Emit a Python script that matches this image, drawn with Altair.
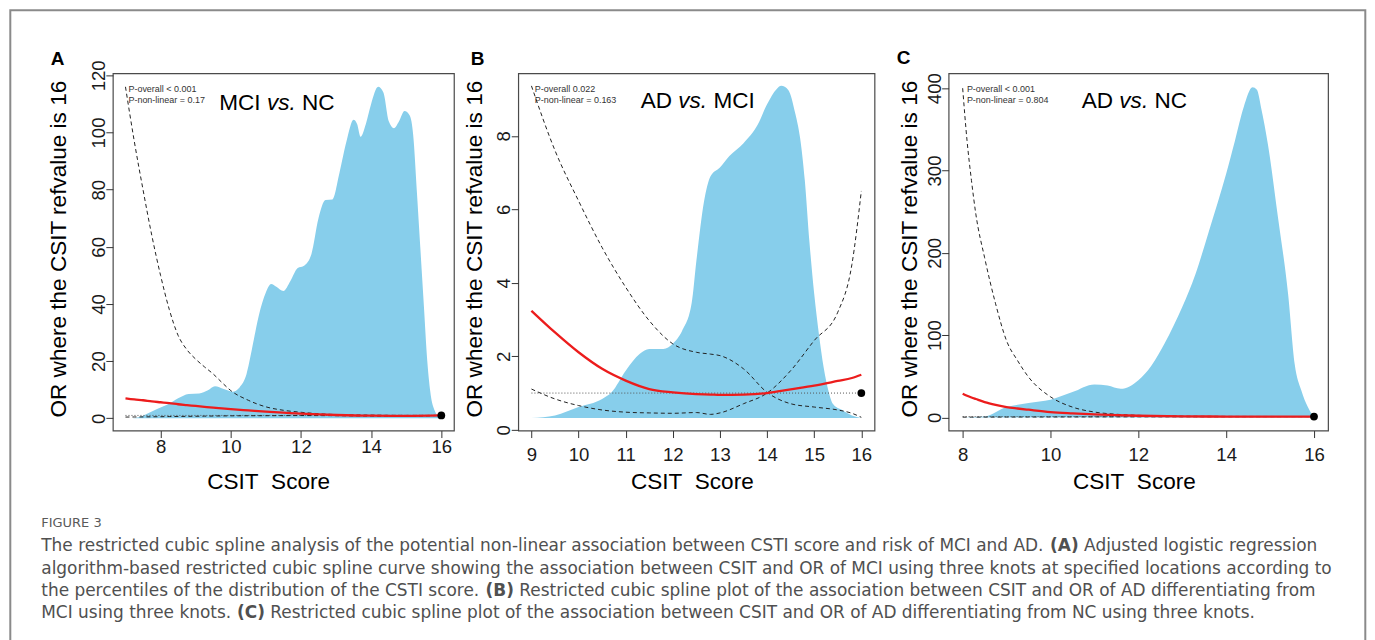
import os
import struct
import altair as alt
import pandas as pd

# ------------------------------------------------------------------ data
# Panel A : MCI vs. NC
A_dens_x = [7.2, 7.4, 7.6, 7.9, 8.2, 8.5, 8.8, 9.1, 9.35, 9.55, 9.8, 10.05, 10.25, 10.45, 10.6, 10.8, 11.0,
            11.15, 11.3, 11.5, 11.7, 11.9, 12.1, 12.3, 12.5, 12.7, 12.9, 13.1, 13.3, 13.5, 13.6, 13.7, 13.85,
            14.0, 14.2, 14.35, 14.5, 14.65, 14.8, 14.95, 15.1, 15.2, 15.3, 15.4, 15.5, 15.6, 15.7, 15.8, 15.9, 16.0]
A_dens_y = [0, 0.4, 1.5, 3.2, 4.8, 7.0, 8.5, 8.7, 9.8, 11.2, 10.2, 9.3, 10.8, 15.5, 24, 36, 44,
            47, 46, 44.5, 48, 52.5, 53.5, 57.5, 70, 76.4, 76.6, 86, 97, 104.5, 103, 98.5, 103,
            110, 116, 114, 104, 101.5, 104, 107.5, 106, 99, 80, 60, 40, 20, 8, 3, 1, 0.3]
A_line_x = [7, 7.25, 7.5, 7.75, 8, 8.25, 8.5, 8.75, 9, 9.25, 9.5, 9.75, 10, 10.5, 11, 11.5, 12, 12.5, 13, 14, 15, 16]
A_or = [7.0, 6.6, 6.3, 5.9, 5.6, 5.3, 4.9, 4.6, 4.3, 4.0, 3.7, 3.45, 3.2, 2.75, 2.3, 1.95, 1.6, 1.35, 1.15, 0.9, 0.85, 1.0]
A_ci_up = [116, 97, 80, 64, 50, 38, 29, 24, 20.7, 18, 15.5, 12.5, 9.7, 6.3, 4.0, 2.8, 2.1, 1.6, 1.3, 1.1, 1.0, 1.0]
A_ci_lo = [0.42, 0.45, 0.48, 0.52, 0.55, 0.6, 0.63, 0.67, 0.7, 0.74, 0.78, 0.82, 0.85, 0.88, 0.9, 0.92, 0.95, 0.93, 0.9, 0.75, 0.7, 1.0]

# Panel B : AD vs. MCI
B_dens_x = [9.0, 9.5, 10.0, 10.5, 10.7, 11.0, 11.3, 11.5, 11.8, 12.0, 12.2, 12.4, 12.5, 12.66, 12.8, 13.0, 13.2,
            13.5, 13.8, 14.0, 14.2, 14.3, 14.45, 14.6, 14.7, 14.8, 14.9, 15.0, 15.1, 15.2, 15.3, 15.4, 15.6, 15.8, 16.0]
B_dens_y = [0.32, 0.39, 0.62, 0.84, 1.02, 1.61, 2.07, 2.2, 2.2, 2.34, 2.7, 3.45, 4.6, 6.2, 6.9, 7.14, 7.45,
            7.8, 8.3, 8.86, 9.27, 9.36, 9.25, 8.6, 7.95, 6.8, 5.1, 3.7, 2.6, 1.7, 1.07, 0.7, 0.53, 0.39, 0.32]
B_dens_base = 0.32
B_line_x = [9, 9.5, 10, 10.5, 11, 11.5, 12, 12.5, 12.8, 13, 13.5, 14, 14.5, 15, 15.5, 15.8, 16]
B_or = [3.24, 2.65, 2.11, 1.66, 1.34, 1.11, 1.02, 0.97, 0.96, 0.95, 0.96, 1.0, 1.1, 1.2, 1.33, 1.41, 1.5]
B_ci_1 = [9.36, 7.6, 6.23, 4.96, 3.88, 2.97, 2.34, 2.11, 2.06, 2.02, 1.66, 1.02, 0.71, 0.62, 0.54, 0.45, 0.34]
B_ci_2 = [1.11, 0.84, 0.66, 0.54, 0.48, 0.46, 0.45, 0.47, 0.42, 0.46, 0.71, 1.0, 1.61, 2.43, 3.2, 4.5, 6.5]

# Panel C : AD vs. NC
C_dens_x = [8.0, 8.5, 9.0, 9.5, 10.0, 10.5, 11.0, 11.3, 11.6, 11.8, 12.0, 12.3, 12.6, 13.0, 13.3, 13.6, 14.0,
            14.2, 14.4, 14.6, 14.7, 14.8, 14.95, 15.18, 15.41, 15.56, 15.71, 15.86, 16.0]
C_dens_y = [0, 1, 12.5, 17.4, 21.4, 30.7, 40, 38.8, 34.8, 37.6, 45, 63, 90, 134, 174, 225, 296,
            336, 377, 401, 398, 375, 332, 243, 150, 65, 33, 12.5, 0]
C_line_x = [8, 8.1, 8.2, 8.3, 8.5, 8.75, 9, 9.25, 9.5, 10, 10.5, 11, 11.5, 12, 13, 14, 15, 16]
C_or = [28.7, 26.3, 24.2, 22.3, 18.6, 15.2, 12.5, 10.8, 9.3, 6.5, 4.9, 3.6, 2.7, 2.0, 1.3, 1.0, 0.95, 1.0]
C_ci_up = [400, 336, 288, 247, 194, 138, 93, 69, 49, 25, 12.5, 6.5, 3.8, 2.5, 1.5, 1.2, 1.1, 1.0]
C_ci_lo = [0.3, 0.31, 0.32, 0.33, 0.35, 0.38, 0.4, 0.43, 0.45, 0.5, 0.55, 0.6, 0.65, 0.7, 0.75, 0.8, 0.9, 1.0]

REF_X = 16
REF_OR = 1

Y_TITLE = "OR where the CSIT refvalue is 16"
X_TITLE = "CSIT\u00a0\u00a0Score"
A_P = ["P-overall < 0.001", "P-non-linear = 0.17"]
B_P = ["P-overall 0.022", "P-non-linear = 0.163"]
C_P = ["P-overall < 0.001", "P-non-linear = 0.804"]
A_LAB = ("MCI", "vs.", "NC")
B_LAB = ("AD", "vs.", "MCI")
C_LAB = ("AD", "vs.", "NC")

CAP_HEAD = "FIGURE 3"
CAP_LINES = [
    ["The restricted cubic spline analysis of the potential non-linear association between CSTI score and risk of MCI and AD. ",
     "(A)", " Adjusted logistic regression"],
    ["algorithm-based restricted cubic spline curve showing the association between CSIT and OR of MCI using three knots at specified locations according to"],
    ["the percentiles of the distribution of the CSTI score. ", "(B)",
     " Restricted cubic spline plot of the association between CSIT and OR of AD differentiating from"],
    ["MCI using three knots. ", "(C)",
     " Restricted cubic spline plot of the association between CSIT and OR of AD differentiating from NC using three knots."],
]

# ------------------------------------------------------------------ font metrics (for placing mixed-style text)
ARIAL = {' ': 278, '.': 278, ',': 278, '-': 333, '(': 333, ')': 333, '<': 584, '=': 584}
for c in '0123456789':
    ARIAL[c] = 556
for c, w in zip('abcdefghijklmnopqrstuvwxyz',
                [556, 556, 500, 556, 556, 278, 556, 556, 222, 222, 500, 222, 833, 556, 556, 556, 556, 333, 500, 278,
                 556, 500, 722, 500, 500, 500]):
    ARIAL[c] = w
for c, w in zip('ABCDEFGHIJKLMNOPQRSTUVWXYZ',
                [667, 667, 722, 722, 667, 611, 778, 722, 278, 500, 667, 556, 833, 722, 778, 667, 778, 722, 667, 611,
                 722, 667, 944, 667, 667, 611]):
    ARIAL[c] = w
ARIAL_W = {k: v / 1000 for k, v in ARIAL.items()}


def arial_width(s, size):
    return sum(ARIAL_W.get(ch, 0.556) for ch in s) * size


def find_font(names):
    roots = ['/usr/share/fonts', '/usr/local/share/fonts', os.path.expanduser('~/.fonts'),
             os.path.expanduser('~/.local/share/fonts')]
    for r in roots:
        if not os.path.isdir(r):
            continue
        for dp, dn, fn in os.walk(r):
            for f in fn:
                if f.lower() in names:
                    return os.path.join(dp, f)
    return None


def load_widths(path):
    try:
        with open(path, 'rb') as fh:
            data = fh.read()
        nt = struct.unpack('>H', data[4:6])[0]
        tabs = {}
        for i in range(nt):
            tag, cs, off, ln = struct.unpack('>4sIII', data[12 + 16 * i:28 + 16 * i])
            tabs[tag.decode('latin1')] = off
        upem = struct.unpack('>H', data[tabs['head'] + 18:tabs['head'] + 20])[0]
        nhm = struct.unpack('>H', data[tabs['hhea'] + 34:tabs['hhea'] + 36])[0]
        ho = tabs['hmtx']
        adv = [struct.unpack('>H', data[ho + 4 * i:ho + 4 * i + 2])[0] for i in range(nhm)]
        co = tabs['cmap']
        n = struct.unpack('>H', data[co + 2:co + 4])[0]
        sub = None
        for i in range(n):
            pid, eid, so = struct.unpack('>HHI', data[co + 4 + 8 * i:co + 12 + 8 * i])
            fmt = struct.unpack('>H', data[co + so:co + so + 2])[0]
            if fmt == 4 and pid in (0, 3):
                sub = co + so
                break
        segx2 = struct.unpack('>H', data[sub + 6:sub + 8])[0]
        seg = segx2 // 2
        ends = struct.unpack('>%dH' % seg, data[sub + 14:sub + 14 + segx2])
        starts = struct.unpack('>%dH' % seg, data[sub + 16 + segx2:sub + 16 + 2 * segx2])
        deltas = struct.unpack('>%dh' % seg, data[sub + 16 + 2 * segx2:sub + 16 + 3 * segx2])
        rpos = sub + 16 + 3 * segx2
        roffs = struct.unpack('>%dH' % seg, data[rpos:rpos + segx2])

        def gid(c):
            for i in range(seg):
                if starts[i] <= c <= ends[i]:
                    if roffs[i] == 0:
                        return (c + deltas[i]) & 0xFFFF
                    addr = rpos + 2 * i + roffs[i] + 2 * (c - starts[i])
                    g = struct.unpack('>H', data[addr:addr + 2])[0]
                    return (g + deltas[i]) & 0xFFFF if g else 0
            return 0

        out = {}
        for c in range(32, 127):
            g = gid(c)
            out[chr(c)] = adv[min(g, nhm - 1)] / upem
        return out
    except Exception:
        return None


CAP_FONT = None
reg_w = None
bold_w = None
p = find_font({'dejavusans.ttf'})
if p:
    reg_w = load_widths(p)
    if reg_w:
        CAP_FONT = "DejaVu Sans"
        pb = find_font({'dejavusans-bold.ttf'})
        bold_w = load_widths(pb) if pb else None
        if bold_w is None:
            bold_w = {k: v * 1.15 for k, v in reg_w.items()}
if CAP_FONT is None:
    p = find_font({'opensans-regular.ttf'})
    reg_w = load_widths(p) if p else None
    if reg_w:
        CAP_FONT = "Open Sans"
        pb = find_font({'opensans-bold.ttf'})
        bold_w = load_widths(pb) if pb else None
        if bold_w is None:
            bold_w = {k: v * 1.17 for k, v in reg_w.items()}
if CAP_FONT is None:
    CAP_FONT = "Liberation Sans"
    reg_w = dict(ARIAL_W)
    bold_w = dict(ARIAL_W)


def cap_width(s, size, bold=False):
    tab = bold_w if bold else reg_w
    return sum(tab.get(ch, 0.55) for ch in s) * size


CAP_X0 = 40.0
CAP_X1 = 1334.0
# caption font size chosen so that line 2 spans the same length as in the figure
CAP_SIZE = max(13.0, min(20.0, (CAP_X1 - CAP_X0) / cap_width(CAP_LINES[1][0], 1.0)))

# ------------------------------------------------------------------ helpers
DUMMY = pd.DataFrame({"d": [0]})
FONT = "Liberation Sans"


def txt(text, x, y, size, **kw):
    return alt.Chart(DUMMY).mark_text(text=text, fontSize=size, **kw).encode(
        x=alt.value(x), y=alt.value(y))


def panel(dx, dy, base, lx, orv, c1, c2, xdom, ydom, xt, yt, ptxt, ptx, lab, labx, laby,
          letter, letx, lety, ytx, ycy, xtx, xlabpad):
    X = alt.X("x:Q", scale=alt.Scale(domain=xdom, nice=False, zero=False),
              axis=alt.Axis(values=xt, title=None, grid=False, domain=False, tickSize=7, tickColor="#333",
                            labelFont=FONT, labelFontSize=18.6, labelColor="#1a1a1a", labelPadding=xlabpad,
                            labelFlush=False, labelOverlap=False, format="d"))
    Y = alt.Y("y:Q", scale=alt.Scale(domain=ydom, nice=False, zero=False),
              axis=alt.Axis(values=yt, title=None, grid=False, domain=False, tickSize=7, tickColor="#333",
                            labelFont=FONT, labelFontSize=18.6, labelColor="#1a1a1a", labelAngle=270,
                            labelAlign="center", labelBaseline="alphabetic", labelPadding=1.4,
                            labelFlush=False, labelOverlap=False, format="d"))
    dens = pd.DataFrame({"x": dx, "y": dy, "base": [base] * len(dx)})
    area = alt.Chart(dens).mark_area(color="#87CEEB", opacity=1, interpolate="monotone").encode(
        x=X, y=Y, y2="base:Q")
    refdf = pd.DataFrame({"x": [lx[0], REF_X], "y": [REF_OR, REF_OR]})
    ref = alt.Chart(refdf).mark_line(color="#555", strokeWidth=1, strokeDash=[1, 2]).encode(x=X, y=Y)
    ci = pd.DataFrame({"x": lx + lx, "y": c1 + c2, "s": ["a"] * len(lx) + ["b"] * len(lx)})
    cil = alt.Chart(ci).mark_line(color="#222", strokeWidth=1, strokeDash=[4, 3], interpolate="monotone").encode(
        x=X, y=Y, detail="s:N")
    ordf = pd.DataFrame({"x": lx, "y": orv})
    orl = alt.Chart(ordf).mark_line(color="#ec1c1c", strokeWidth=2.3, interpolate="monotone").encode(x=X, y=Y)
    dot = alt.Chart(pd.DataFrame({"x": [REF_X], "y": [REF_OR]})).mark_circle(
        color="black", opacity=1, size=60).encode(x=X, y=Y)
    layers = [area, ref, cil, orl, dot]
    # p-value notes
    layers.append(txt(ptxt[0], ptx, 15.2, 9, font=FONT, align="left", color="#333"))
    layers.append(txt(ptxt[1], ptx, 26.7, 9, font=FONT, align="left", color="#333"))
    # comparison label with italic "vs."
    ls = 22.6
    w0 = arial_width(lab[0] + " ", ls)
    w1 = arial_width(lab[1], ls)
    w2 = arial_width(" ", ls)
    layers.append(txt(lab[0], labx, laby, ls, font=FONT, align="left", color="black"))
    layers.append(txt(lab[1], labx + w0, laby, ls, font=FONT, align="left", fontStyle="italic", color="black"))
    layers.append(txt(lab[2], labx + w0 + w1 + w2, laby, ls, font=FONT, align="left", color="black"))
    # panel letter
    layers.append(txt(letter, letx, lety, 19, font=FONT, fontWeight="bold", align="center", color="black"))
    # axis titles
    layers.append(txt(Y_TITLE, ytx, ycy, 22.6, font=FONT, angle=270, align="center", baseline="alphabetic",
                      color="black"))
    layers.append(txt(X_TITLE, xtx, 416, 22.6, font=FONT, align="center", baseline="alphabetic", color="black"))
    return layers


A_layers = panel(A_dens_x, A_dens_y, 0, A_line_x, A_or, A_ci_up, A_ci_lo, [6.64, 16.36], [-4.3, 120.7],
                 [8, 10, 12, 14, 16], [0, 20, 40, 60, 80, 100, 120], A_P, 15.6, A_LAB, 106.6, 29.4,
                 "A", -55.4, -14, -46.7, 176, 156, 0)
B_layers = panel(B_dens_x, B_dens_y, B_dens_base, B_line_x, B_or, B_ci_1, B_ci_2, [8.72, 16.28], [-0.02, 9.7],
                 [9, 10, 11, 12, 13, 14, 15, 16], [0, 2, 4, 6, 8], B_P, 16.6, B_LAB, 122.6, 27.7,
                 "B", -40.7, -14, -36.7, 176, 174.3, 8)
C_layers = panel(C_dens_x, C_dens_y, 0, C_line_x, C_or, C_ci_up, C_ci_lo, [7.68, 16.32], [-16, 418],
                 [8, 10, 12, 14, 16], [0, 100, 200, 300, 400], C_P, 18.3, C_LAB, 133.3, 27.7,
                 "C", -45, -15.6, -31.7, 176, 186, 8)

# frame and caption (positioned relative to panel A's plot area)
OX, OY = 111.7, 72.3
frame = alt.Chart(DUMMY).mark_rect(fill="transparent", stroke="#8a8a8a", strokeWidth=2).encode(
    x=alt.value(9 - OX), x2=alt.value(1366 - OX), y=alt.value(9 - OY), y2=alt.value(660 - OY))
cap_layers = [frame]
cx0 = CAP_X0 - OX
cap_layers.append(txt(CAP_HEAD, cx0, 522.5 - OY, 13, font=CAP_FONT, align="left", color="#5a5a5a"))
base_lines = [545.7, 568.2, 590.7, 613.2]
for li, segs in enumerate(CAP_LINES):
    xpos = cx0
    for si, s in enumerate(segs):
        bold = (si == 1)
        lead = len(s) - len(s.lstrip(" "))
        xpos += cap_width(" " * lead, CAP_SIZE, False)
        body = s.strip(" ")
        cap_layers.append(txt(body, xpos, base_lines[li] - OY, CAP_SIZE, font=CAP_FONT, align="left",
                              color="#505050", fontWeight="bold" if bold else "normal"))
        xpos += cap_width(s.lstrip(" "), CAP_SIZE, bold)

A = alt.layer(*(cap_layers + A_layers)).properties(width=341.6, height=357.7)
B = alt.layer(*B_layers).properties(width=356.8, height=357.7)
C = alt.layer(*C_layers).properties(width=380, height=357.7)


def spacer(w):
    return alt.Chart(DUMMY, view=alt.ViewBackground(stroke="transparent")).mark_point(opacity=0).encode(
        x=alt.value(0), y=alt.value(0)).properties(width=w, height=357.7)


chart = alt.hconcat(A, spacer(63.4), B, spacer(73.2), C, spacing=0, bounds="flush").properties(
    padding=0, background="white"
).configure_view(stroke="#4a4a4a", strokeWidth=1.2)

chart.save("out.html", embed_options={"renderer": "svg", "actions": False})
